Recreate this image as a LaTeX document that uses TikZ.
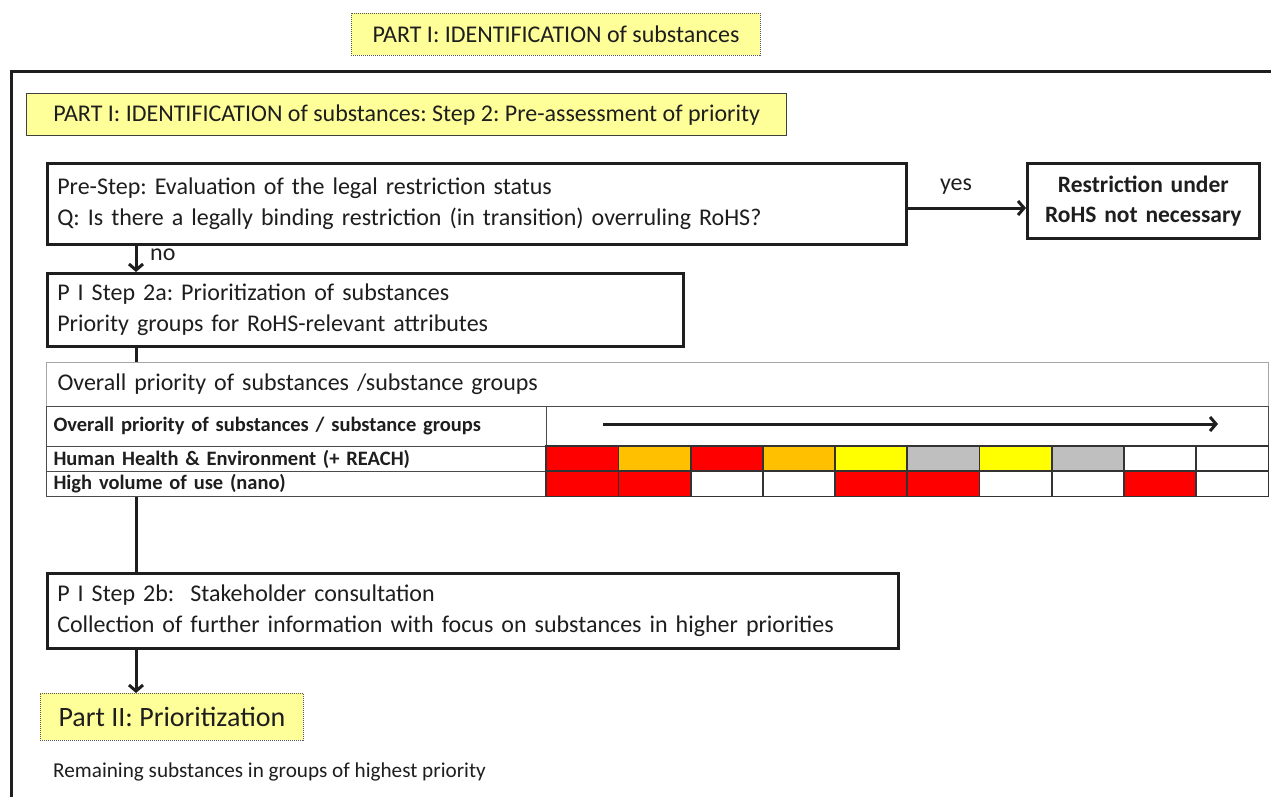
\documentclass[tikz,border=0pt]{standalone}
\usepackage{fontspec}
\setmainfont{Carlito}
\frenchspacing
\usetikzlibrary{arrows.meta}
\definecolor{lyel}{RGB}{255,255,153}
\definecolor{cred}{RGB}{255,0,0}
\definecolor{corange}{RGB}{255,192,0}
\definecolor{cyel}{RGB}{255,255,0}
\definecolor{cgray}{RGB}{191,191,191}
\definecolor{ink}{RGB}{30,30,30}
\begin{document}
\begin{tikzpicture}[x=1pt,y=-1pt, font=\fontsize{24}{31}\selectfont, text=ink,
 stepbox/.style={draw=ink, line width=2.6pt, fill=white, anchor=north west, align=left, inner xsep=10pt, inner ysep=0pt},
 dashbox/.style={fill=lyel, draw=gray!70!black, dash pattern=on 1pt off 1pt, line width=0.9pt, anchor=north west, inner sep=0pt},
 solidbox/.style={fill=lyel, draw=gray!50!black, line width=1.4pt, anchor=north west, inner sep=0pt},
 rowlbl/.style={draw=ink!80, line width=1pt, anchor=north west, inner ysep=0pt, inner xsep=7pt, align=left, font=\fontsize{20.5}{24}\bfseries\selectfont},
 cell/.style={anchor=north west, inner sep=0pt, minimum height=25pt, minimum width=72.2pt},
 grid/.style={draw=black!80, line width=1.4pt},
 flow/.style={draw=ink, line width=3pt, -{Straight Barb[length=6pt,width=14pt]}},
 plain/.style={draw=ink, line width=3pt},
]
\useasboundingbox (0,0) rectangle (1271,797);
% outer frame
\draw[ink, line width=3pt] (11,797) -- (11,72) -- (1271,72);
\coordinate (sp) at (136,0);
% titles
\node[dashbox, minimum width=409pt, minimum height=42pt] (t1) at (351,13) {PART I: IDENTIFICATION of substances};
\node[solidbox, minimum width=760pt, minimum height=42pt] (t2) at (26,93) {PART I: IDENTIFICATION of substances: Step 2: Pre-assessment of priority};
% pre-step
\node[stepbox, text width=839pt, minimum height=81pt] (pre) at (46,162) {Pre-Step: Evaluation of the legal restriction status\\Q: Is there a legally binding restriction (in transition) overruling RoHS?};
\node[stepbox, align=center, inner xsep=0pt, text width=232pt, minimum height=75pt, font=\fontsize{23.5}{30}\bfseries\selectfont] (res) at (1026,162) {Restriction under\\RoHS not necessary};
\coordinate (ya) at (905,208);
\coordinate (yb) at (1026,208);
\draw[flow] (ya) -- (yb);
\node (yes) at (956,187) {yes};
% step 2a
\node[stepbox, text width=616pt, minimum height=73pt] (s2a) at (46,272) {P I Step 2a: Prioritization of substances\\Priority groups for RoHS-relevant attributes};
\draw[flow] (pre.south -| sp) -- (s2a.north -| sp);
\node[anchor=west, inner sep=0pt] (no) at (150,255) {no};
% table
\node[draw=gray!70, line width=1pt, fill=white, anchor=north west, inner ysep=0pt, inner xsep=11pt, align=left, text width=1200pt, minimum height=44pt] (hdr) at (46,362) {Overall priority of substances /substance groups};
\node[rowlbl, text width=486pt, minimum height=40pt] (r2) at (46,406) {Overall priority of substances / substance groups\\[5pt]};
\node[draw=ink!80, line width=1pt, anchor=north west, minimum width=722pt, minimum height=40pt, inner sep=0pt] (r2b) at (546,406) {};
\node[rowlbl, text width=486pt, minimum height=25pt] (r3) at (46,446) {Human Health \& Environment (+ REACH)};
\node[rowlbl, text width=486pt, minimum height=25pt] (r4) at (46,471) {High volume of use (nano)};
\foreach \c [count=\i from 0] in {cred,corange,cred,corange,cyel,cgray,cyel,cgray,white,white}
  \node[cell, fill=\c] (h\i) at ({546+72.2*\i},446) {};
\foreach \c [count=\i from 0] in {cred,cred,white,white,cred,cred,white,white,cred,white}
  \node[cell, fill=\c] (v\i) at ({546+72.2*\i},471) {};
\foreach \i in {0,...,9} {
  \draw[grid] (h\i.north west) rectangle (h\i.south east);
  \draw[grid] (v\i.north west) rectangle (v\i.south east);
}
\coordinate (a1) at (603,424);
\coordinate (a2) at (1218,424);
\draw[flow] (a1) -- (a2);
\draw[plain] (s2a.south -| sp) -- (hdr.north -| sp);
% step 2b
\node[stepbox, text width=831pt, minimum height=75pt] (s2b) at (46,572) {P I Step 2b:\ \ Stakeholder consultation\\Collection of further information with focus on substances in higher priorities};
\draw[plain] (r4.south -| sp) -- (s2b.north -| sp);
% part II
\node[dashbox, minimum width=263pt, minimum height=47pt, font=\fontsize{28}{32}\selectfont] (p2) at (40,693) {Part II: Prioritization};
\draw[flow] (s2b.south -| sp) -- (p2.north -| sp);
\node[anchor=west, inner sep=0pt, font=\fontsize{21.2}{24}\selectfont] (rem) at (53,772) {Remaining substances in groups of highest priority};
\end{tikzpicture}
\end{document}
